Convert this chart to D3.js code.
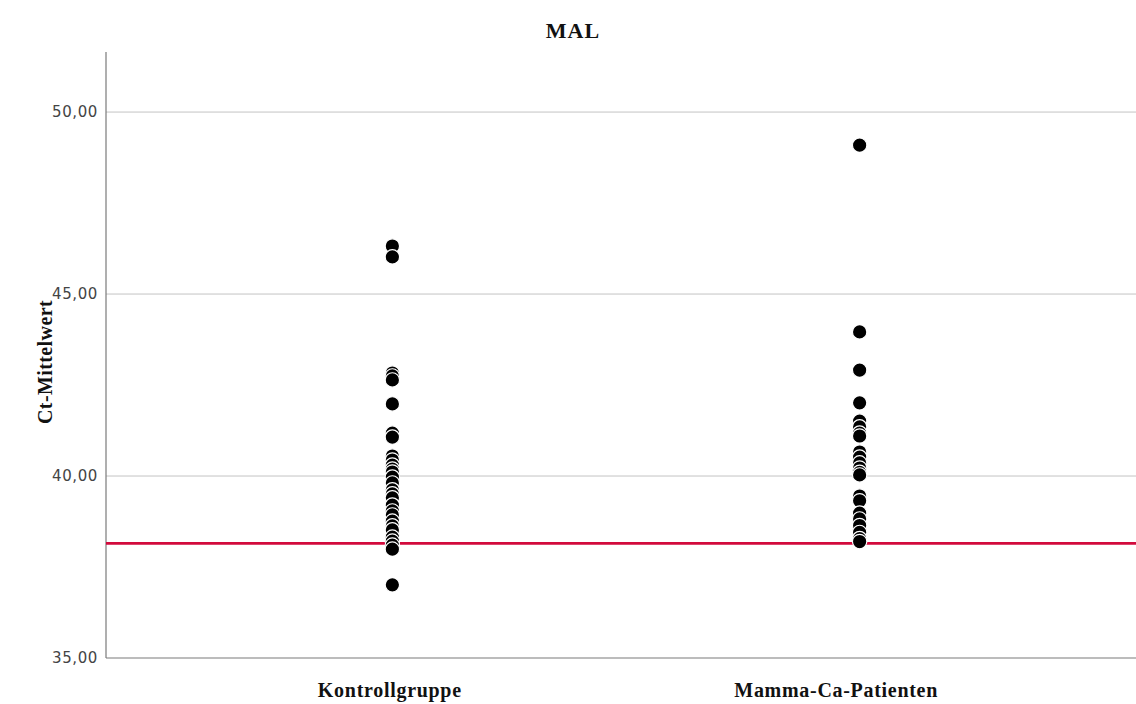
<!DOCTYPE html>
<html>
<head>
<meta charset="utf-8">
<script src="https://cdn.jsdelivr.net/npm/d3@7"></script>
<style>
  html, body { margin: 0; padding: 0; background: #fff; }
  svg { display: block; }
</style>
</head>
<body>
<svg id="chart" width="1136" height="704"></svg>
<script>
const title = "MAL";
const yTitle = "Ct-Mittelwert";
const categories = ["Kontrollgruppe", "Mamma-Ca-Patienten"];
const kontrollValues = [46.32, 46.02, 42.83, 42.75, 42.64, 41.98, 41.18, 41.07, 40.55, 40.44, 40.30, 40.19,
  40.11, 39.97, 39.81, 39.62, 39.51, 39.40, 39.20, 39.04, 38.93, 38.76, 38.63, 38.52, 38.32, 38.21, 38.10, 37.99, 37.01];
const mammaValues = [49.09, 43.96, 42.91, 42.01, 41.51, 41.35, 41.18, 41.10, 40.66, 40.52, 40.36, 40.22,
  40.10, 40.03, 39.45, 39.32, 38.98, 38.82, 38.64, 38.45, 38.28, 38.20];
const referenceLine = 38.15;
const yTicks = [35, 40, 45, 50];
const yDomain = [35, 51.65];

(function () {
const svg = d3.select("#chart");
const mLeft = 106, mRight = 1136, mTop = 52, mBottom = 658;

const y = d3.scaleLinear().domain(yDomain).range([mBottom, mTop]);
const x = d3.scalePoint().domain(categories).range([112, 1140]).padding(0.6);
const xLabel = d3.scalePoint().domain(categories).range([122, 1104]).padding(0.6);

const fmt = v => d3.format(".2f")(v).replace(".", ",");

// gridlines
svg.append("g").selectAll("line").data(yTicks.filter(t => t > yDomain[0]))
  .join("line")
  .attr("x1", mLeft).attr("x2", mRight)
  .attr("y1", d => y(d)).attr("y2", d => y(d))
  .attr("stroke", "#c4c4c4").attr("stroke-width", 1);

// y axis
const yAxis = svg.append("g").attr("transform", `translate(${mLeft},0)`)
  .call(d3.axisLeft(y).tickValues(yTicks).tickFormat(fmt).tickSize(0).tickPadding(8));
yAxis.select(".domain").remove();
yAxis.selectAll("text")
  .attr("font-family", "DejaVu Sans, Verdana, sans-serif")
  .attr("font-size", 15)
  .attr("fill", "#444")
  .attr("letter-spacing", 0.6);

svg.append("line").attr("x1", mLeft).attr("x2", mLeft).attr("y1", mTop).attr("y2", mBottom)
  .attr("stroke", "#7a7a7a").attr("stroke-width", 1.2);
svg.append("line").attr("x1", mLeft).attr("x2", mRight).attr("y1", mBottom).attr("y2", mBottom)
  .attr("stroke", "#7a7a7a").attr("stroke-width", 1.2);

// reference line
svg.append("line")
  .attr("x1", mLeft).attr("x2", mRight)
  .attr("y1", y(referenceLine)).attr("y2", y(referenceLine))
  .attr("stroke", "#d20a3c").attr("stroke-width", 2.8);

// points
const groups = [kontrollValues, mammaValues];
groups.forEach((vals, i) => {
  svg.append("g").selectAll("circle").data(vals).join("circle")
    .attr("cx", x(categories[i]))
    .attr("cy", d => y(d))
    .attr("r", 7.2)
    .attr("fill", "#000")
    .attr("stroke", "#fff")
    .attr("stroke-width", 1.2);
});

// category labels
svg.append("g").selectAll("text").data(categories).join("text")
  .attr("x", d => xLabel(d))
  .attr("y", 697)
  .attr("text-anchor", "middle")
  .attr("font-family", "Liberation Serif, serif")
  .attr("font-weight", "bold")
  .attr("font-size", 20)
  .attr("letter-spacing", 0.7)
  .attr("fill", "#111")
  .text(d => d);

// title
svg.append("text")
  .attr("x", 573).attr("y", 38)
  .attr("text-anchor", "middle")
  .attr("font-family", "Liberation Serif, serif")
  .attr("font-weight", "bold")
  .attr("font-size", 22)
  .attr("letter-spacing", 1)
  .attr("fill", "#111")
  .text(title);

// y title
svg.append("text")
  .attr("transform", `translate(52,362) rotate(-90)`)
  .attr("text-anchor", "middle")
  .attr("font-family", "Liberation Serif, serif")
  .attr("font-weight", "bold")
  .attr("font-size", 20)
  .attr("letter-spacing", 0.4)
  .attr("fill", "#111")
  .text(yTitle);
})();
</script>
</body>
</html>
